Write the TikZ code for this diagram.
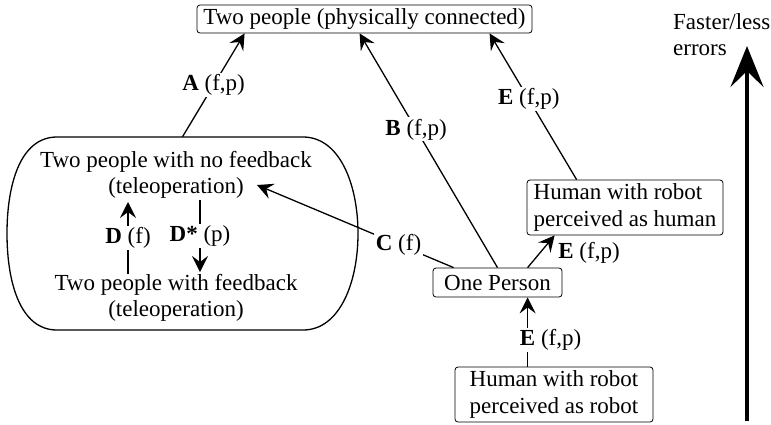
\documentclass[tikz,border=0pt]{standalone}
\usepackage{fontspec}
\setmainfont{Liberation Serif}
\usetikzlibrary{arrows.meta}
\begin{document}
\begin{tikzpicture}[x=1pt,y=-1pt,
  every node/.style={font=\fontsize{23}{26.5}\selectfont},
  box/.style={draw, line width=0.8pt, rounded corners=3pt, inner sep=0pt},
  lab/.style={fill=white, inner sep=1.5pt},
  arr/.style={line width=1.3pt, -{Stealth[length=16pt,width=16pt,inset=6pt]}},
  ln/.style={line width=1.3pt}]
\useasboundingbox (0,0) rectangle (771,424);

% boxes
\node[box, minimum width=335pt, minimum height=28pt] (top) at (364.5,19) {Two people (physically connected)};
\node[box, minimum width=196pt, minimum height=55pt, align=left] (hrh) at (625,207.5) {Human with robot\\perceived as human};
\node[box, minimum width=129pt, minimum height=29pt] (one) at (497.5,282.5) {One Person};
\node[box, minimum width=198pt, minimum height=55pt, align=left] (rob) at (554,394.5) {Human with robot\\perceived as robot};

% group
\node[minimum width=351pt, minimum height=193pt, inner sep=0pt] (grp) at (182.5,233.5) {};
\draw[ln] (57,137) -- (303,137) .. controls (340,137) and (358,185) .. (358,233.5)
  .. controls (358,282) and (340,330) .. (303,330) -- (57,330)
  .. controls (20,330) and (7,282) .. (7,233.5)
  .. controls (7,185) and (20,137) .. (57,137) -- cycle;
\node[inner sep=0pt, align=center] (up) at (176,175) {Two people with no feedback\\(teleoperation)};
\node[inner sep=0pt, align=center] (lo) at (176,298) {Two people with feedback\\(teleoperation)};
\coordinate (ctip) at (257,185);

% connectors
\draw[arr] (grp.north) -- node[lab]{\textbf{A} (f,p)} ([xshift=48pt]top.south west);
\draw[arr] (one.north) -- node[lab, pos=0.59]{\textbf{B} (f,p)} ([xshift=163pt]top.south west);
\draw[arr] ([xshift=50pt]hrh.north west) -- node[lab, pos=0.55]{\textbf{E} (f,p)} ([xshift=293pt]top.south west);
\draw[arr] ([xshift=21pt]one.north west) -- node[lab, pos=0.28]{\textbf{C} (f)} (ctip);
\draw[arr] ([xshift=95pt]one.north west) -- ([xshift=28pt]hrh.south west);
\node (elab) at (589,253) {\textbf{E} (f,p)};
\draw[arr] ([xshift=73pt]rob.north west) -- node[lab, pos=0.39, xshift=23pt]{\textbf{E} (f,p)} ([xshift=95pt]one.south west);
\draw[arr] ([xshift=-48pt]lo.north) -- node[lab]{\textbf{D} (f)} ([xshift=-48pt,yshift=-3pt]up.south);
\draw[arr] ([xshift=24pt,yshift=-1pt]up.south) -- node[lab]{\textbf{D*} (p)} ([xshift=24pt,yshift=2pt]lo.north);

% big arrow
\coordinate (bigs) at (747,421);
\coordinate (bige) at (747,46);
\draw[line width=4pt, -{Stealth[length=41pt,width=33pt,inset=16pt]}] (bigs) -- (bige);
\node[anchor=north west, inner sep=0pt, align=left] (fast) at (673,13) {Faster/less\\errors};
\end{tikzpicture}
\end{document}
